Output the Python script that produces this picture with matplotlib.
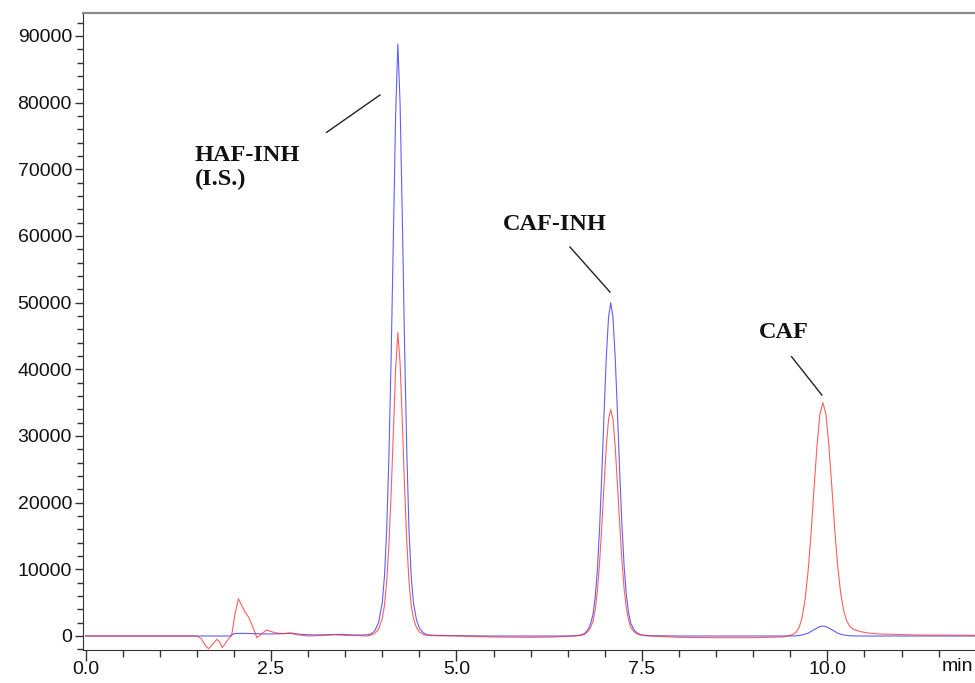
import matplotlib
matplotlib.use("Agg")
import matplotlib.pyplot as plt
from matplotlib.ticker import MultipleLocator

# ---------------- data ----------------
blue_t = [0.0, 1.95, 2.00, 2.10, 2.30, 2.50, 2.65, 2.76, 2.90, 3.10, 3.30, 3.45, 3.60, 3.75,
          3.80, 3.85, 3.90, 3.95, 4.00, 4.03, 4.06, 4.09, 4.12, 4.15, 4.18, 4.21, 4.24, 4.27,
          4.30, 4.33, 4.36, 4.39, 4.42, 4.46, 4.50, 4.55, 4.60, 4.70, 5.00, 5.50, 6.00, 6.50,
          6.60, 6.68, 6.73, 6.78, 6.81, 6.84, 6.87, 6.90, 6.93, 6.96, 6.99, 7.02, 7.05, 7.08,
          7.11, 7.14, 7.17, 7.20, 7.23, 7.26, 7.29, 7.32, 7.35, 7.40, 7.45, 7.50, 7.60, 8.00,
          9.00, 9.50, 9.58, 9.66, 9.74, 9.82, 9.90, 9.94, 9.98, 10.06, 10.14, 10.22, 10.30,
          10.40, 11.00, 12.00]
blue_y = [0, 0, 350, 400, 350, 300, 350, 450, 250, 150, 200, 250, 150, 150,
          200, 300, 800, 2000, 5000, 9000, 16000, 27000, 42000, 60000, 78000, 88800, 80000, 63000,
          44000, 28000, 16000, 9000, 5000, 2500, 1200, 500, 200, 100, 50, 0, 0, 0,
          50, 150, 400, 1100, 1900, 3200, 5800, 10000, 16300, 24400, 33400, 41800, 47800, 50000,
          47800, 41800, 33600, 24800, 16800, 10500, 6200, 3500, 1900, 800, 350, 150, 50, 0,
          0, 0, 30, 150, 420, 950, 1420, 1500, 1420, 950, 420, 150, 40,
          0, 0, 0]

red_t = [0.0, 1.50, 1.56, 1.62, 1.66, 1.71, 1.77, 1.81, 1.84, 1.88, 1.93, 1.97, 2.01, 2.06,
         2.10, 2.15, 2.20, 2.25, 2.31, 2.37, 2.44, 2.52, 2.60, 2.68, 2.76, 2.85, 3.00, 3.20,
         3.35, 3.50, 3.70, 3.80, 3.85, 3.90, 3.95, 4.00, 4.03, 4.06, 4.09, 4.12, 4.15, 4.18,
         4.21, 4.24, 4.27, 4.30, 4.33, 4.36, 4.39, 4.42, 4.46, 4.50, 4.55, 4.60, 4.70, 5.00,
         5.50, 6.00, 6.30, 6.60, 6.68, 6.73, 6.78, 6.81, 6.84, 6.87, 6.90, 6.93, 6.96, 6.99,
         7.02, 7.05, 7.08, 7.11, 7.14, 7.17, 7.20, 7.23, 7.26, 7.29, 7.32, 7.35, 7.40, 7.45,
         7.50, 7.60, 8.00, 8.50, 9.00, 9.40, 9.50, 9.54, 9.58, 9.62, 9.66, 9.70, 9.74, 9.78,
         9.82, 9.86, 9.90, 9.94, 9.98, 10.02, 10.06, 10.10, 10.14, 10.18, 10.22, 10.26, 10.30,
         10.35, 10.45, 10.55, 10.70, 10.90, 11.20, 12.00]
red_y = [0, 0, -400, -1500, -1900, -1300, -500, -900, -1750, -1200, -400, 100, 3000, 5600,
         4700, 3600, 2800, 1500, -250, 300, 900, 600, 400, 350, 400, 200, 0, 100,
         200, 100, 50, 0, 150, 400, 1000, 2600, 4600, 8200, 13800, 21500, 30700, 40000,
         45500, 41000, 32300, 22500, 14300, 8200, 4600, 2600, 1300, 600, 250, 100, 50, 0,
         -150, -200, -150, 0, 100, 270, 750, 1300, 2200, 3900, 6800, 11100, 16600, 22700,
         28400, 32500, 34000, 32500, 28400, 22800, 16900, 11400, 7100, 4200, 2400, 1300, 550, 240,
         100, 0, -200, -250, -250, -150, 100, 250, 600, 1300, 2800, 5500, 9700, 15400,
         22100, 28500, 33300, 35000, 33300, 28600, 22400, 15900, 10400, 6400, 3800, 2300, 1500,
         1000, 650, 450, 300, 250, 150, 100]

x_ticks = [0.0, 2.5, 5.0, 7.5, 10.0]
x_tick_labels = ["0.0", "2.5", "5.0", "7.5", "10.0"]
y_ticks = [0, 10000, 20000, 30000, 40000, 50000, 60000, 70000, 80000, 90000]
y_tick_labels = [str(v) for v in y_ticks]

# ---------------- figure ----------------
W, H = 975, 683
fig = plt.figure(figsize=(W / 100, H / 100), dpi=100)
ax = fig.add_axes([83 / W, (H - 650) / H, (975 - 83) / W, (650 - 13) / H])

ax.plot(blue_t, blue_y, color="#2a2aff", lw=0.8, alpha=0.75)
ax.plot(red_t, red_y, color="#ff2a2a", lw=0.8, alpha=0.75)

ax.set_xlim(-0.034, 11.99)
ax.set_ylim(-2100, 93450)

ax.set_xticks(x_ticks)
ax.set_xticklabels(x_tick_labels)
ax.set_yticks(y_ticks)
ax.set_yticklabels(y_tick_labels)
ax.xaxis.set_minor_locator(MultipleLocator(0.5))
ax.yaxis.set_minor_locator(MultipleLocator(2000))

for lab in ax.get_xticklabels() + ax.get_yticklabels():
    lab.set_family("Liberation Sans")
    lab.set_fontsize(14)
    lab.set_color("#111111")

ax.tick_params(axis="x", which="major", direction="out", length=8, width=1, color="#333333", pad=0)
ax.tick_params(axis="x", which="minor", direction="out", length=5, width=1, color="#333333")
ax.tick_params(axis="y", which="major", direction="out", length=6, width=1, color="#333333", pad=2)
ax.tick_params(axis="y", which="minor", direction="out", length=4, width=1, color="#333333")

ax.spines["left"].set_color("#333333")
ax.spines["bottom"].set_color("#333333")
ax.spines["top"].set_color("#8a8a8a")
ax.spines["top"].set_linewidth(1.6)
ax.spines["right"].set_visible(False)

ax.text(11.75, -0.0125, "min", transform=ax.get_xaxis_transform(), ha="center", va="top",
        family="Liberation Sans", fontsize=14, color="#111111")

# annotations
serif = dict(family="Liberation Serif", fontweight="bold", fontsize=17.5, color="#111111")
ax.text(1.476, 70300, "HAF-INH\n(I.S.)", ha="left", va="center", linespacing=1.15, **serif)
ax.text(5.627, 61650, "CAF-INH", ha="left", va="center", **serif)
ax.text(9.076, 45600, "CAF", ha="left", va="center", **serif)

lk = dict(color="#222222", lw=1.0)
ax.plot([3.25, 3.969], [75550, 81150], **lk)
ax.plot([6.53, 7.069], [58350, 51600], **lk)
ax.plot([9.517, 9.925], [41900, 36150], **lk)

fig.savefig("out.png", dpi=100)
